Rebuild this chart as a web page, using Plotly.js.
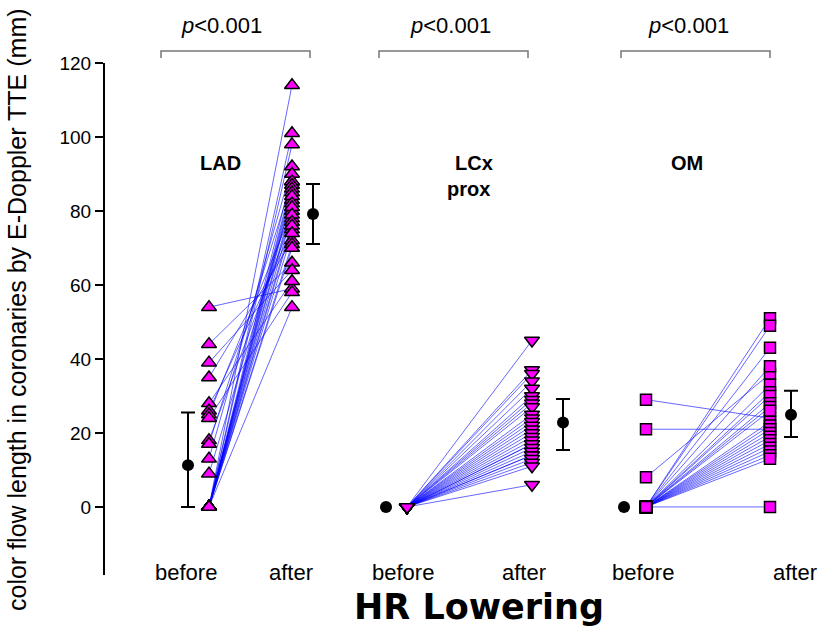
<!DOCTYPE html>
<html>
<head>
<meta charset="utf-8">
<script src="https://cdn.plot.ly/plotly-3.0.1.min.js"></script>
<style>html,body{margin:0;padding:0;background:#fff;}#chart{width:818px;height:628px;}</style>
</head>
<body>
<div id="chart"></div>
<script>
// ---- data (mm) ----
const groupNames = ['LAD', 'LCx', 'OM'];

const ladBefore = [54, 44, 39, 35, 28, 26, 25, 24, 18, 17, 13, 9,
                   0, 0, 0, 0, 0, 0, 0, 0, 0, 0, 0, 0, 0, 0, 0, 0, 0, 0];
const ladAfter  = [59, 66, 64, 72, 61, 75, 80, 58, 78, 88, 92, 83,
                   114, 101, 98, 90, 88, 87, 86, 85, 84, 82, 81, 79, 77, 76, 74, 71, 70, 54];

const lcxBefore = [0, 0, 0, 0, 0, 0, 0, 0, 0, 0, 0, 0, 0, 0, 0, 0, 0, 0, 0, 0, 0, 0, 0, 0, 0, 0, 0];
const lcxAfter  = [45, 37, 36, 34, 32, 30, 29, 28, 27, 25, 24, 23, 22, 21, 20, 19, 18, 17, 17, 16,
                   15, 14, 14, 13, 12, 11, 6];

const omBefore = [29, 21, 8, 0, 0, 0, 0, 0, 0, 0, 0, 0, 0, 0, 0, 0, 0, 0, 0, 0, 0, 0, 0, 0, 0];
const omAfter  = [24, 21, 36, 0, 51, 49, 43, 38, 33, 31, 30, 28, 27, 26, 23, 22, 21, 20, 19, 18,
                  17, 16, 15, 14, 13];

const meanBefore = [11.3, 0, 0];
const beforeHigh = [25.5, null, null];
const beforeLow  = [0, null, null];
const meanAfter  = [79.2, 22.8, 24.9];
const afterHigh  = [87.3, 29.2, 31.4];
const afterLow   = [71.1, 15.4, 18.9];

const pLabels = ['<i>p</i>&lt;0.001', '<i>p</i>&lt;0.001', '<i>p</i>&lt;0.001'];
const tickVals = [0, 20, 40, 60, 80, 100, 120];

// ---- layout positions (x axis runs in page pixels) ----
const POS = [
  {b: 209, a: 292, mb: 188, ma: 313, sym: 'triangle-up', size: 13, lblB: 186, lblA: 291, bracket: [161, 310], pX: 221, name: [[220, 'LAD']]},
  {b: 407, a: 532, mb: 386, ma: 563, sym: 'triangle-down', size: 13, lblB: 403, lblA: 524, bracket: [379, 528], pX: 450, name: [[474, 'LCx'], [468, 'prox']]},
  {b: 646, a: 770, mb: 624, ma: 791, sym: 'square', size: 11, lblB: 643, lblA: 795, bracket: [621, 770], pX: 688, name: [[687, 'OM']]}
];
const series = [[ladBefore, ladAfter], [lcxBefore, lcxAfter], [omBefore, omAfter]];

const traces = [];
// connecting lines
series.forEach((s, g) => {
  const xs = [], ys = [];
  s[0].forEach((v, i) => { xs.push(POS[g].b, POS[g].a, null); ys.push(v, s[1][i], null); });
  traces.push({x: xs, y: ys, mode: 'lines', type: 'scatter', hoverinfo: 'skip', showlegend: false,
    line: {color: 'rgba(0,0,255,0.6)', width: 1}, cliponaxis: false});
});
// markers
series.forEach((s, g) => {
  traces.push({
    x: s[0].map(() => POS[g].b).concat(s[1].map(() => POS[g].a)),
    y: s[0].concat(s[1]),
    mode: 'markers', type: 'scatter', showlegend: false, cliponaxis: false,
    marker: {symbol: POS[g].sym, size: POS[g].size, color: '#ff00ff', line: {color: '#000', width: 1.5}}
  });
});
// means with error bars
function meanTrace(x, m, hi, lo) {
  const t = {x: [x], y: [m], mode: 'markers', type: 'scatter', showlegend: false, cliponaxis: false,
    marker: {symbol: 'circle', size: 12, color: '#000'}};
  if (hi !== null) {
    t.error_y = {type: 'data', symmetric: false, array: [hi - m], arrayminus: [m - lo],
      color: '#000', thickness: 2, width: 7};
  }
  return t;
}
groupNames.forEach((n, g) => {
  traces.push(meanTrace(POS[g].mb, meanBefore[g], beforeHigh[g], beforeLow[g]));
  traces.push(meanTrace(POS[g].ma, meanAfter[g], afterHigh[g], afterLow[g]));
});

// annotations & shapes
const H = 512, B = 53, PH = 628;
const py = (pix) => (PH - pix - B) / H;   // page y pixel -> paper y
const ann = [];
const shapes = [];
const txtFont = {family: 'Liberation Sans, Arial, sans-serif', size: 22, color: '#000'};
POS.forEach((p, g) => {
  ann.push({x: p.lblB, y: py(572), xref: 'x', yref: 'paper', text: 'before', showarrow: false, font: txtFont, xanchor: 'center', yanchor: 'middle'});
  ann.push({x: p.lblA, y: py(572), xref: 'x', yref: 'paper', text: 'after', showarrow: false, font: txtFont, xanchor: 'center', yanchor: 'middle'});
  ann.push({x: p.pX, y: py(25), xref: 'x', yref: 'paper', text: pLabels[g], showarrow: false, font: txtFont, xanchor: 'center', yanchor: 'middle'});
  p.name.forEach((nm, k) => {
    ann.push({x: nm[0], y: py(163 + 26 * k), xref: 'x', yref: 'paper', text: '<b>' + nm[1] + '</b>', showarrow: false,
      font: {family: 'Liberation Sans, Arial, sans-serif', size: 20, color: '#000'}, xanchor: 'center', yanchor: 'middle'});
  });
  shapes.push({type: 'path', xref: 'x', yref: 'paper',
    path: `M${p.bracket[0]},${py(58)} L${p.bracket[0]},${py(51)} L${p.bracket[1]},${py(51)} L${p.bracket[1]},${py(58)}`,
    line: {color: '#777', width: 1.5}});
});
ann.push({x: (17 - 105) / 713, y: py(310), xref: 'paper', yref: 'paper', textangle: -90,
  text: 'color flow length in coronaries by E-Doppler TTE (mm)', showarrow: false,
  font: {family: 'Liberation Sans, Arial, sans-serif', size: 25, color: '#000'}, xanchor: 'center', yanchor: 'middle'});
ann.push({x: 479, y: py(607), xref: 'x', yref: 'paper', text: '<b>HR Lowering</b>', showarrow: false,
  font: {family: 'DejaVu Sans, sans-serif', size: 35, color: '#000'}, xanchor: 'center', yanchor: 'middle'});

const layout = {
  width: 818, height: 628,
  margin: {l: 105, r: 0, t: 63, b: 53, pad: 0},
  paper_bgcolor: '#fff', plot_bgcolor: '#fff',
  showlegend: false,
  xaxis: {range: [105, 818], visible: false, fixedrange: true},
  yaxis: {range: [-18.4, 120], tickvals: tickVals, ticktext: tickVals.map(String),
    showline: true, linecolor: '#000', linewidth: 2, ticks: 'outside', ticklen: 8, tickwidth: 1.5, tickcolor: '#000',
    showgrid: false, zeroline: false, tickfont: {family: 'Liberation Sans, Arial, sans-serif', size: 19, color: '#000'},
    fixedrange: true},
  annotations: ann,
  shapes: shapes
};

Plotly.newPlot('chart', traces, layout, {displayModeBar: false, staticPlot: true});
</script>
</body>
</html>
